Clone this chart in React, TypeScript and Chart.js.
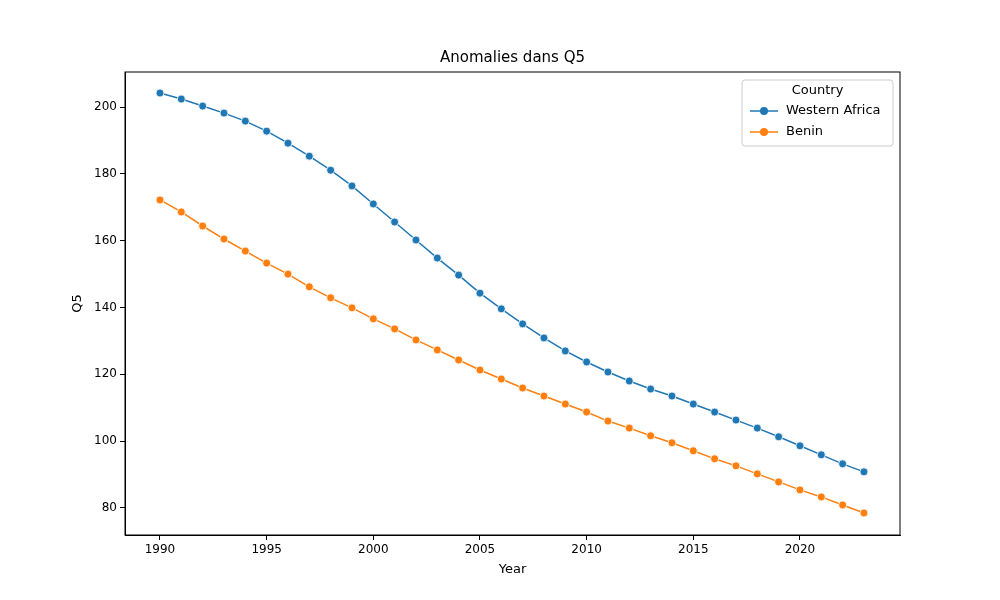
import { useEffect, useRef } from "react";
import Chart from "chart.js/auto";

const years = [1990, 1991, 1992, 1993, 1994, 1995, 1996, 1997, 1998, 1999, 2000, 2001, 2002, 2003, 2004, 2005, 2006, 2007, 2008, 2009, 2010, 2011, 2012, 2013, 2014, 2015, 2016, 2017, 2018, 2019, 2020, 2021, 2022, 2023];
const westernAfrica = [204.2, 202.4, 200.3, 198.2, 195.8, 192.8, 189.2, 185.3, 181.1, 176.4, 171.0, 165.6, 160.2, 154.8, 149.7, 144.3, 139.6, 135.1, 130.9, 127.0, 123.7, 120.7, 118.0, 115.6, 113.5, 111.1, 108.7, 106.3, 103.9, 101.3, 98.6, 95.9, 93.2, 90.8];
const benin = [172.2, 168.6, 164.4, 160.5, 156.9, 153.3, 150.0, 146.2, 142.9, 139.9, 136.6, 133.6, 130.3, 127.3, 124.3, 121.3, 118.6, 115.9, 113.5, 111.1, 108.7, 106.0, 103.9, 101.6, 99.5, 97.1, 94.7, 92.6, 90.2, 87.8, 85.4, 83.3, 80.9, 78.5];
const seriesNames = ["Western Africa", "Benin"];
const colors = ["#1f77b4", "#ff7f0e"];
const xTicks = [1990, 1995, 2000, 2005, 2010, 2015, 2020];
const yTicks = [80, 100, 120, 140, 160, 180, 200];

const FONT = "'DejaVu Sans', sans-serif";

const framePlugin = {
  id: "frame",
  afterDraw(chart: any) {
    const { ctx, chartArea: a } = chart;
    ctx.save();
    ctx.strokeStyle = "#000";
    ctx.lineWidth = 1;
    ctx.strokeRect(a.left, a.top, a.right - a.left, a.bottom - a.top);
    ctx.fillStyle = "#000";
    ctx.font = `15px ${FONT}`;
    ctx.textAlign = "center";
    ctx.textBaseline = "bottom";
    ctx.fillText("Anomalies dans Q5", (a.left + a.right) / 2, a.top - 6);
    // legend
    const lx = 742, ly = 80, lw = 151, lh = 66;
    ctx.fillStyle = "rgba(255,255,255,0.8)";
    ctx.strokeStyle = "#ccc";
    ctx.beginPath();
    ctx.roundRect(lx, ly, lw, lh, 3);
    ctx.fill();
    ctx.stroke();
    ctx.fillStyle = "#000";
    ctx.font = `13px ${FONT}`;
    ctx.textBaseline = "middle";
    ctx.fillText("Country", lx + lw / 2, ly + 11);
    ctx.textAlign = "left";
    chart.data.datasets.forEach((ds: any, i: number) => {
      const yy = ly + 31 + i * 21;
      ctx.strokeStyle = ds.borderColor;
      ctx.lineWidth = 1.5;
      ctx.beginPath();
      ctx.moveTo(lx + 8, yy);
      ctx.lineTo(lx + 36, yy);
      ctx.stroke();
      ctx.fillStyle = ds.borderColor;
      ctx.beginPath();
      ctx.arc(lx + 22, yy, 4, 0, Math.PI * 2);
      ctx.fill();
      ctx.fillStyle = "#000";
      ctx.fillText(ds.label, lx + 44, yy);
    });
    ctx.restore();
  },
};

export default function App() {
  const canvasRef = useRef<HTMLCanvasElement | null>(null);

  useEffect(() => {
    if (!canvasRef.current) return;
    document.body.style.margin = "0";
    const mk = (vals: number[], i: number) => ({
      label: seriesNames[i],
      data: years.map((y, k) => ({ x: y, y: vals[k] })),
      borderColor: colors[i],
      backgroundColor: colors[i],
      borderWidth: 1.5,
      pointRadius: 4,
      pointBorderColor: "#fff",
      pointBorderWidth: 0.8,
      tension: 0,
    });
    const axis = (title: string, ticks: number[], min: number, max: number, isX: boolean) => ({
      type: "linear" as const,
      min,
      max,
      afterBuildTicks: (s: any) => { s.ticks = ticks.map((v) => ({ value: v })); },
      afterFit: (s: any) => { if (isX) s.height = 44; else s.width = 57; },
      grid: { drawOnChartArea: false, drawTicks: true, tickLength: 5, color: "#000" },
      border: { color: "#000" },
      ticks: { color: "#000", font: { family: FONT, size: 12 }, padding: 3, callback: (v: any) => String(v) },
      title: { display: true, text: title, color: "#000", font: { family: FONT, size: 13 }, padding: 2 },
    });
    const chart = new Chart(canvasRef.current, {
      type: "line",
      data: { datasets: [mk(westernAfrica, 0), mk(benin, 1)] },
      options: {
        animation: false,
        responsive: false,
        layout: { padding: { top: 72, right: 100, left: 68, bottom: 21 } },
        plugins: { legend: { display: false }, tooltip: { enabled: false } },
        scales: {
          x: axis("Year", xTicks, 1988.36, 2024.69, true),
          y: axis("Q5", yTicks, 71.9, 210.5, false),
        },
      },
      plugins: [framePlugin],
    });
    return () => chart.destroy();
  }, []);

  return <canvas ref={canvasRef} width={1000} height={600} style={{ display: "block" }} />;
}
